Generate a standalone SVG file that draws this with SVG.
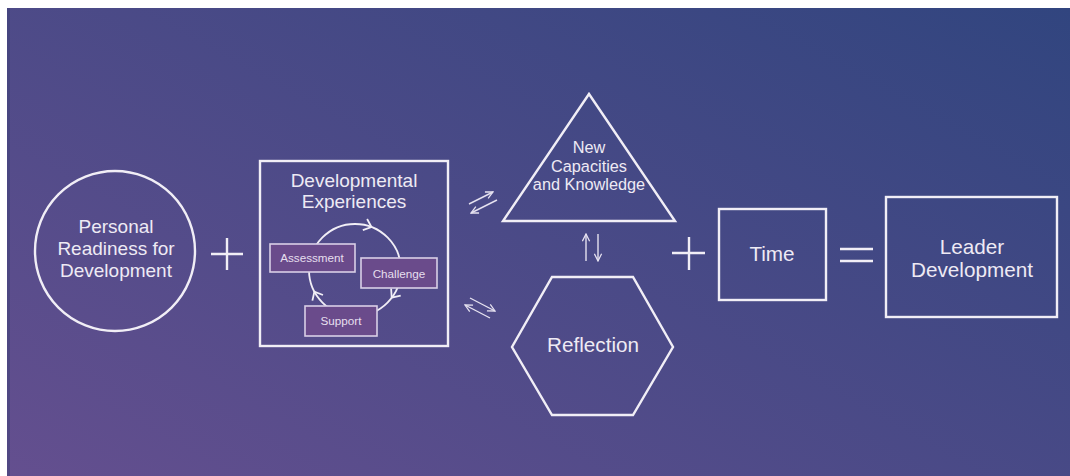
<svg xmlns="http://www.w3.org/2000/svg" width="1070" height="476" viewBox="0 0 1070 476">
  <defs>
    <linearGradient id="bg" gradientUnits="userSpaceOnUse" x1="7" y1="476" x2="452" y2="-333">
      <stop offset="0" stop-color="#644f8f"/>
      <stop offset="1" stop-color="#31457f"/>
    </linearGradient>
    <marker id="head" viewBox="0 0 10 10" refX="9" refY="5" markerWidth="9" markerHeight="9" markerUnits="userSpaceOnUse" orient="auto">
      <path d="M1,1 L9,5 L1,9" fill="none" stroke="#e6e2f0" stroke-width="1.4"/>
    </marker>
    <style>
      .shape { fill: none; stroke: #f1eef6; stroke-width: 2.4; }
      .label { font-family: "Liberation Sans", Arial, sans-serif; font-size: 19px; fill: #eeeaf4; text-anchor: middle; }
      .label.tri { font-size: 16.3px; }
      .label.big { font-size: 20.7px; }
      .small { font-family: "Liberation Sans", Arial, sans-serif; font-size: 11.7px; fill: #e6dfee; text-anchor: middle; }
      .step { fill: #6a4b8b; stroke: #d9cfe6; stroke-width: 1.6; }
      .op { fill: none; stroke: #f1eef6; stroke-width: 2.4; }
      .dbl { fill: none; stroke: #e6e2f0; stroke-width: 1.4; marker-end: url(#head); }
      .cyc { fill: none; stroke: #f1eef6; stroke-width: 1.8; }
    </style>
  </defs>

  <rect x="0" y="0" width="1070" height="476" fill="#ffffff"/>
  <rect x="7" y="8" width="1063" height="468" fill="url(#bg)"/>
  <rect x="7" y="8" width="3" height="468" fill="#3d3f78" opacity="0.5"/>

  <g id="personal-readiness">
    <circle class="shape" cx="115" cy="251" r="80"/>
    <text class="label" x="116" y="233">Personal</text>
    <text class="label" x="116" y="255">Readiness for</text>
    <text class="label" x="116" y="277">Development</text>
  </g>

  <g id="plus-1">
    <path class="op" d="M211,254 H243 M227,238 V270"/>
  </g>

  <g id="developmental-experiences">
    <rect class="shape" x="260" y="161" width="188" height="185"/>
    <text class="label" x="354" y="187">Developmental</text>
    <text class="label" x="354" y="208">Experiences</text>
    <circle class="cyc" cx="355" cy="270" r="46"/>
    <polyline class="cyc" transform="translate(371.5,227.1) rotate(21)" points="-7,-6 0,0 -7,6"/>
    <polyline class="cyc" transform="translate(391.7,297.7) rotate(127)" points="-7,-6 0,0 -7,6"/>
    <polyline class="cyc" transform="translate(314.4,291.6) rotate(242)" points="-7,-6 0,0 -7,6"/>
    <g id="assessment">
      <rect class="step" x="270" y="244" width="85" height="28"/>
      <text class="small" x="312" y="262">Assessment</text>
    </g>
    <g id="challenge">
      <rect class="step" x="361" y="258" width="76" height="30"/>
      <text class="small" x="399" y="277.5">Challenge</text>
    </g>
    <g id="support">
      <rect class="step" x="305" y="306" width="72" height="30"/>
      <text class="small" x="341" y="324.5">Support</text>
    </g>
  </g>

  <g id="new-capacities">
    <polygon class="shape" points="589,94 675,221 503,221"/>
    <text class="label tri" x="589" y="153">New</text>
    <text class="label tri" x="589" y="172">Capacities</text>
    <text class="label tri" x="589" y="190">and Knowledge</text>
  </g>

  <g id="reflection">
    <polygon class="shape" points="552,277 633,277 673,347 633,415 552,415 512,347"/>
    <text class="label big" x="593" y="352">Reflection</text>
  </g>

  <g id="connectors">
    <line class="dbl" x1="469" y1="204" x2="493" y2="192"/>
    <line class="dbl" x1="497" y1="200" x2="471" y2="213"/>
    <line class="dbl" x1="470" y1="298" x2="495" y2="311"/>
    <line class="dbl" x1="490" y1="318" x2="465" y2="305"/>
    <line class="dbl" x1="586" y1="261" x2="586" y2="234"/>
    <line class="dbl" x1="598" y1="234" x2="598" y2="261"/>
  </g>

  <g id="plus-2">
    <path class="op" d="M672,253 H705 M689,237 V270"/>
  </g>

  <g id="time">
    <rect class="shape" x="719" y="209" width="107" height="91"/>
    <text class="label big" x="772" y="261">Time</text>
  </g>

  <g id="equals">
    <path class="op" d="M840,249 H873 M840,261 H873"/>
  </g>

  <g id="leader-development">
    <rect class="shape" x="886" y="197" width="171" height="120"/>
    <text class="label big" x="972" y="254">Leader</text>
    <text class="label big" x="972" y="277">Development</text>
  </g>
</svg>
